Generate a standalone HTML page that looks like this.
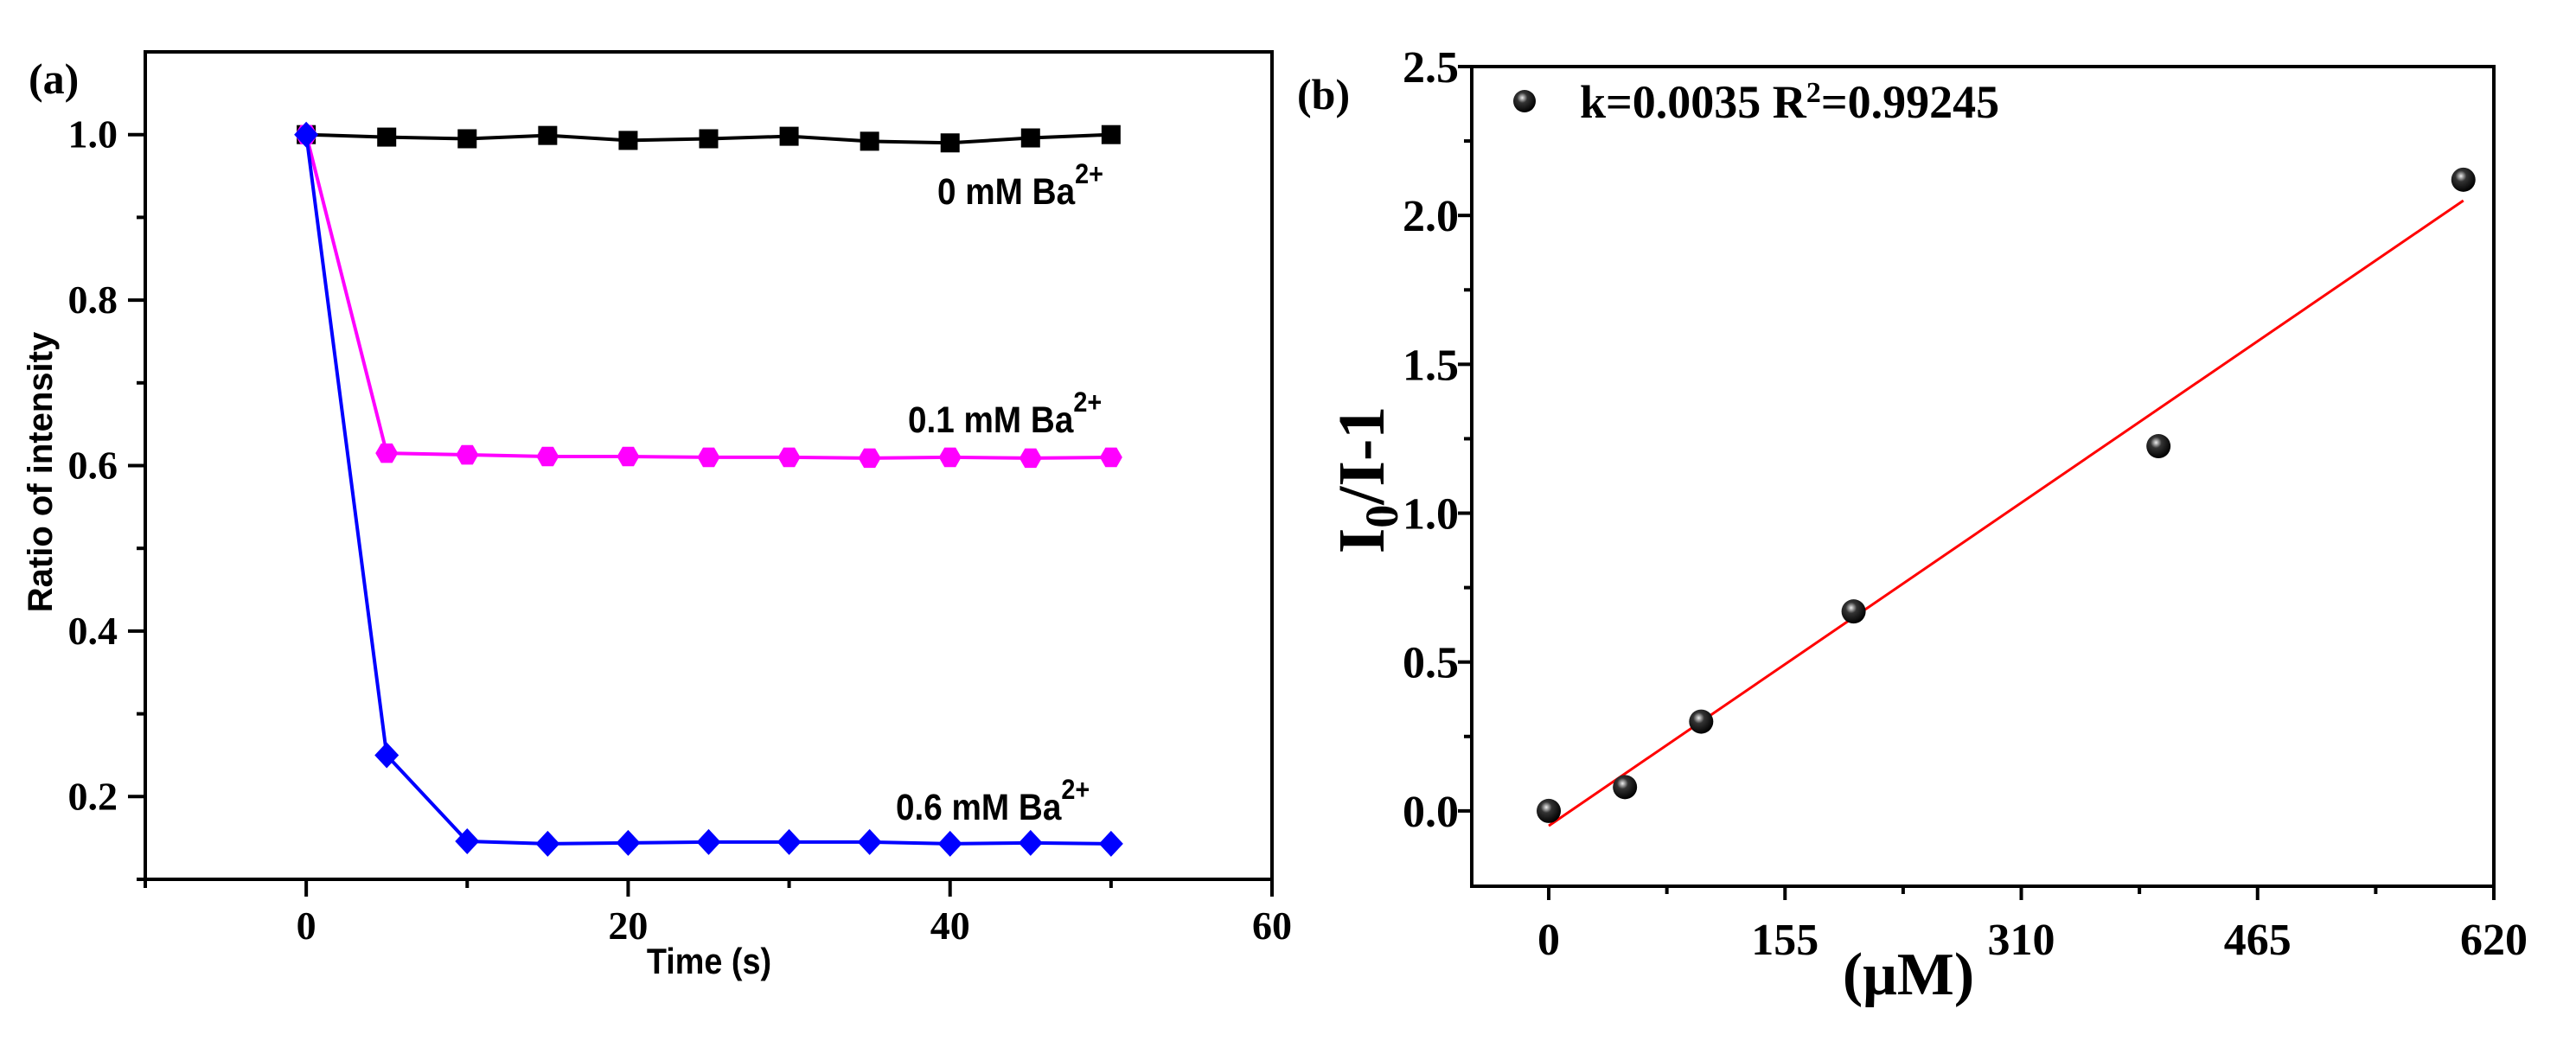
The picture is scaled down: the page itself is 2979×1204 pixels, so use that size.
<!DOCTYPE html>
<html><head><meta charset="utf-8"><style>
html,body{margin:0;padding:0;background:#fff;}
svg{display:block;}
.tn{font-family:"Liberation Serif",serif;font-weight:bold;}
.ar{font-family:"Liberation Sans",sans-serif;font-weight:bold;}
</style></head><body>
<svg id="chart" width="2979" height="1204" viewBox="0 0 2979 1204" xmlns="http://www.w3.org/2000/svg">
<g id="pa"></g>
<g id="pb"></g>
</svg>
<script>
const timeCats=[0,5,10,15,20,25,30,35,40,45,50];
const series0=[1.0,0.997,0.995,0.999,0.993,0.995,0.998,0.992,0.990,0.996,1.0];
const series01=[1.0,0.615,0.613,0.611,0.611,0.610,0.610,0.609,0.610,0.609,0.610];
const series06=[1.0,0.25,0.146,0.143,0.144,0.145,0.145,0.145,0.143,0.144,0.143];
const aXTicks=[0,20,40,60];
const aYTicks=[0.2,0.4,0.6,0.8,1.0];
const concX=[0,50,100,200,400,600];
const ratioY=[0,0.08,0.30,0.67,1.225,2.12];
const fitK=0.0035, fitB=-0.05;
const bXTicks=[0,155,310,465,620];
const bYTicks=[0.0,0.5,1.0,1.5,2.0,2.5];

const NS="http://www.w3.org/2000/svg";
function mk(parent,tag,attrs,text){const e=document.createElementNS(NS,tag);for(const k in attrs)e.setAttribute(k,attrs[k]);if(text!==undefined)e.textContent=text;parent.appendChild(e);return e;}

// Panel A
const pa=document.getElementById('pa');
const aL=168,aR=1471,aT=60,aB=1017,axMin=-10,axMax=60,ayMin=0.1,ayMax=1.1;
const ax=v=>aL+(v-axMin)/(axMax-axMin)*(aR-aL);
const ay=v=>aB-(v-ayMin)/(ayMax-ayMin)*(aB-aT);
let fr=mk(pa,'rect',{x:aL,y:aT,width:aR-aL,height:aB-aT,fill:'none',stroke:'#000','stroke-width':4});

for(let v=-10;v<=60;v+=10){const major=aXTicks.includes(v);
 let t=mk(pa,'line',{x1:ax(v),x2:ax(v),y1:aB,y2:aB+(major?20:10),stroke:'#000','stroke-width':4});
 }
aXTicks.forEach(v=>{let t=mk(pa,'text',{x:ax(v),y:1086,'text-anchor':'middle','font-size':46,class:'tn'},String(v));
 });
for(let i=1;i<=10;i++){const v=i/10;const major=aYTicks.some(m=>Math.abs(m-v)<1e-6);
 let t=mk(pa,'line',{x1:aL,x2:aL-(major?20:10),y1:ay(v),y2:ay(v),stroke:'#000','stroke-width':4});
 }
aYTicks.forEach(v=>{let t=mk(pa,'text',{x:136,y:ay(v)+15,'text-anchor':'end','font-size':46,class:'tn'},v.toFixed(1));
 });
let tt=mk(pa,'text',{x:820,y:1126,'text-anchor':'middle','font-size':42,class:'ar',transform:'translate(820 0) scale(0.9 1) translate(-820 0)'},'Time (s)');

tt=mk(pa,'text',{x:0,y:0,'text-anchor':'middle','font-size':40,class:'ar',transform:'translate(60 546) rotate(-90)'},'Ratio of intensity');

tt=mk(pa,'text',{x:33,y:108,'font-size':50,class:'tn'},'(a)');


function drawSeries(vals,color,shape,name){
 const g=mk(pa,'g',{});
 mk(g,'polyline',{points:timeCats.map((t,i)=>ax(t)+','+ay(vals[i])).join(' '),fill:'none',stroke:color,'stroke-width':4});
 timeCats.forEach((t,i)=>{const x=ax(t),y=ay(vals[i]);let m;
  if(shape==='sq')m=mk(g,'rect',{x:x-11,y:y-11,width:22,height:22,fill:color});
  else if(shape==='hex')m=mk(g,'polygon',{points:[0,1,2,3,4,5].map(k=>{const a=Math.PI/3*k;return (x+13*Math.cos(a))+','+(y+13*Math.sin(a));}).join(' '),fill:color});
  else m=mk(g,'polygon',{points:`${x},${y-15} ${x+14},${y} ${x},${y+15} ${x-14},${y}`,fill:color});
  });
}
drawSeries(series0,'#000','sq','series-0mM');
drawSeries(series01,'#ff00ff','hex','series-0.1mM');
drawSeries(series06,'#0000ff','dia','series-0.6mM');
function ann(x,y,txt,name){const t=mk(pa,'text',{x:x,y:y,'font-size':43,class:'ar',transform:`translate(${x} 0) scale(0.9 1) translate(${-x} 0)`});
 
 t.appendChild(document.createTextNode(txt));mk(t,'tspan',{dy:-24,'font-size':32},'2+');}
ann(1084,236,'0 mM Ba','label-0mM');
ann(1050,500,'0.1 mM Ba','label-0.1mM');
ann(1036,948,'0.6 mM Ba','label-0.6mM');

// Panel B
const pb=document.getElementById('pb');
const bL=1702,bR=2884,bT=77,bB=1025,bxMin=-50.5,bxMax=620,byMin=-0.253,byMax=2.5;
const bx=v=>bL+(v-bxMin)/(bxMax-bxMin)*(bR-bL);
const by=v=>bB-(v-byMin)/(byMax-byMin)*(bB-bT);
fr=mk(pb,'rect',{x:bL,y:bT,width:bR-bL,height:bB-bT,fill:'none',stroke:'#000','stroke-width':4});

const defs=mk(pb,'defs',{});
const rg=mk(defs,'radialGradient',{id:'ball',cx:'0.4',cy:'0.35',r:'0.65'});
mk(rg,'stop',{offset:'0','stop-color':'#eee'});mk(rg,'stop',{offset:'0.35','stop-color':'#333'});mk(rg,'stop',{offset:'1','stop-color':'#000'});
for(let v=0;v<=620;v+=77.5){const major=bXTicks.some(m=>Math.abs(m-v)<1e-6);
 let t=mk(pb,'line',{x1:bx(v),x2:bx(v),y1:bB,y2:bB+(major?16:9),stroke:'#000','stroke-width':4});
 }
bXTicks.forEach(v=>{let t=mk(pb,'text',{x:bx(v),y:1104,'text-anchor':'middle','font-size':52,class:'tn'},String(v));
 });
for(let v=0;v<=2.5001;v+=0.25){const major=bYTicks.some(m=>Math.abs(m-v)<1e-6);
 let t=mk(pb,'line',{x1:bL,x2:bL-(major?16:9),y1:by(v),y2:by(v),stroke:'#000','stroke-width':4});
 }
bYTicks.forEach(v=>{let t=mk(pb,'text',{x:1687,y:by(v)+18,'text-anchor':'end','font-size':52,class:'tn'},v.toFixed(1));
 });
tt=mk(pb,'text',{x:2207,y:1150,'text-anchor':'middle','font-size':70,class:'tn'},'(μM)');

tt=mk(pb,'text',{x:0,y:0,'text-anchor':'middle','font-size':76,class:'tn',transform:'translate(1600 555) rotate(-90)'});

tt.appendChild(document.createTextNode('I'));mk(tt,'tspan',{dy:16,'font-size':54},'0');mk(tt,'tspan',{dy:-16},'/I-1');
tt=mk(pb,'text',{x:1500,y:126,'font-size':50,class:'tn'},'(b)');

const fit=mk(pb,'line',{x1:bx(0),y1:by(fitB),x2:bx(600),y2:by(fitB+fitK*600),stroke:'#ff0000','stroke-width':3});

concX.forEach((c,i)=>{const p=mk(pb,'circle',{cx:bx(c),cy:by(ratioY[i]),r:14,fill:'url(#ball)'});
 });
const lg=mk(pb,'g',{});
mk(lg,'circle',{cx:1763,cy:117,r:13,fill:'url(#ball)'});
tt=mk(lg,'text',{x:1827,y:136,'font-size':54,class:'tn'});

tt.appendChild(document.createTextNode('k=0.0035 R'));mk(tt,'tspan',{dy:-18,'font-size':34},'2');mk(tt,'tspan',{dy:18},'=0.99245');
</script>
</body></html>
